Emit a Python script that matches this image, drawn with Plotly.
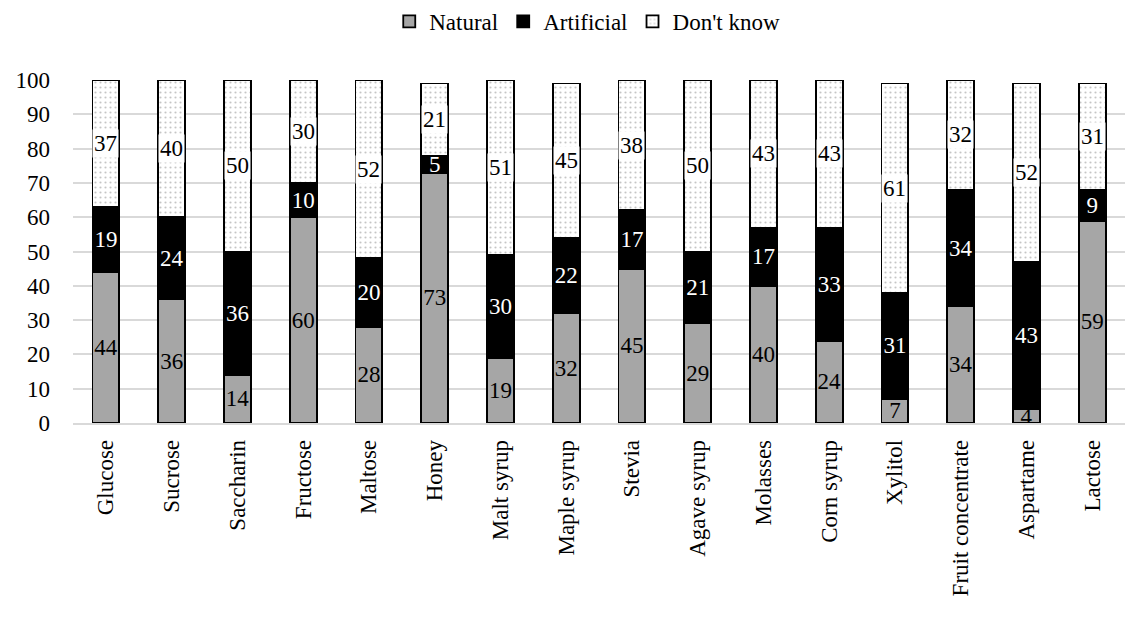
import plotly.graph_objects as go

sweeteners = ["Glucose", "Sucrose", "Saccharin", "Fructose", "Maltose", "Honey",
              "Malt syrup", "Maple syrup", "Stevia", "Agave syrup", "Molasses",
              "Corn syrup", "Xylitol", "Fruit concentrate", "Aspartame", "Lactose"]
natural = [44, 36, 14, 60, 28, 73, 19, 32, 45, 29, 40, 24, 7, 34, 4, 59]
artificial = [19, 24, 36, 10, 20, 5, 30, 22, 17, 21, 17, 33, 31, 34, 43, 9]
dont_know = [37, 40, 50, 30, 52, 21, 51, 45, 38, 50, 43, 43, 61, 32, 52, 31]
y_ticks = list(range(0, 101, 10))

FONT = "Liberation Serif"
FS = 23
outline = dict(color="black", width=1.8)

fig = go.Figure()
fig.add_trace(go.Bar(
    name="Natural", x=sweeteners, y=natural,
    marker=dict(color="#A6A6A6", line=outline),
    text=natural, textposition="inside", insidetextanchor="middle",
    textangle=0, textfont=dict(color="black", size=FS, family=FONT),
))
fig.add_trace(go.Bar(
    name="Artificial", x=sweeteners, y=artificial,
    marker=dict(color="black", line=outline),
    text=artificial, textposition="inside", insidetextanchor="middle",
    textangle=0, textfont=dict(color="white", size=FS, family=FONT),
))
fig.add_trace(go.Bar(
    name="Don't know", x=sweeteners, y=dont_know,
    marker=dict(color="white", line=outline,
                pattern=dict(shape=".", fgcolor="#8C8C8C", bgcolor="white",
                             size=5, solidity=0.15)),
))

# "Don't know" labels sit in white boxes centred on their segment
for name, n, a, d in zip(sweeteners, natural, artificial, dont_know):
    fig.add_annotation(
        x=name, y=n + a + d / 2, text=str(d), showarrow=False,
        font=dict(color="black", size=FS, family=FONT),
        bgcolor="white", borderpad=1,
    )

fig.update_layout(
    barmode="stack", bargap=0.59,
    width=1125, height=617,
    margin=dict(l=73, r=0, t=80, b=194),
    paper_bgcolor="white", plot_bgcolor="white",
    font=dict(family=FONT, size=FS, color="black"),
    uniformtext=dict(mode="show", minsize=FS),
    legend=dict(orientation="h", x=0.522, xanchor="center", xref="container",
                y=1.0, yanchor="top", yref="container",
                font=dict(size=FS, family=FONT),
                traceorder="normal", itemwidth=30),
    showlegend=True,
)
fig.update_yaxes(range=[0, 100], tickvals=y_ticks, showgrid=True,
                 gridcolor="#D9D9D9", gridwidth=1.5, zeroline=False,
                 ticks="", ticklabelstandoff=22, showline=False)
fig.update_xaxes(tickangle=-90, showline=True, linecolor="#D9D9D9", linewidth=1.5,
                 ticks="", ticklabelstandoff=6)

fig.write_html("out.html")
